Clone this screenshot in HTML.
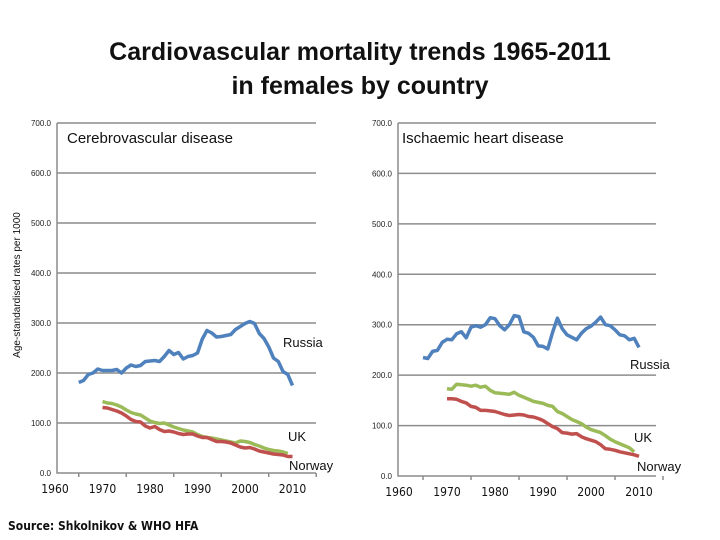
<!DOCTYPE html>
<html><head><meta charset="utf-8"><style>
body{margin:0;background:#fff;width:720px;height:540px;overflow:hidden;font-family:"Liberation Sans",sans-serif}
svg{position:absolute;left:0;top:0}
</style></head><body>
<svg id="s" width="720" height="540" xmlns="http://www.w3.org/2000/svg">
<text x="360" y="60" text-anchor="middle" font-size="25" font-weight="bold" fill="#111">Cardiovascular mortality trends 1965-2011</text>
<text x="360" y="94" text-anchor="middle" font-size="25" font-weight="bold" fill="#111">in females by country</text>
<text transform="translate(20,285) rotate(-90)" text-anchor="middle" font-size="10" fill="#111">Age-standardised rates per 1000</text>
<text x="8" y="530" font-size="12" font-weight="bold" font-family="DejaVu Sans Condensed, DejaVu Sans, sans-serif" fill="#111">Source: Shkolnikov &amp; WHO HFA</text>
<g id="left"></g><g id="right"></g>
</svg>
<script>
const yTicks=[0,100,200,300,400,500,600,700];
const xTickLabels=[1960,1970,1980,1990,2000,2010];
const cvRussiaStart=1965;
const cvRussia=[181,185,197,200,208,205,205,205,207,200,210,216,213,215,223,224,225,223,233,245,237,241,228,233,235,240,268,285,280,272,273,275,277,287,293,299,303,299,279,269,252,230,223,203,197,175];
const cvUKStart=1970;
const cvUK=[143,140,139,136,132,126,121,118,116,110,104,101,99,100,96,92,89,86,84,82,77,73,71,70,68,66,64,62,60,64,63,61,57,54,50,47,45,44,42,39];
const cvNorwayStart=1970;
const cvNorway=[131,130,127,124,120,114,107,103,102,94,90,93,87,83,84,82,79,77,78,78,74,71,71,67,63,63,62,60,56,52,50,51,48,44,42,40,38,37,36,33,33];
const ihdRussiaStart=1965;
const ihdRussia=[235,233,247,249,265,271,270,282,286,274,295,298,295,300,314,312,298,290,300,318,316,286,283,275,258,257,252,285,313,292,280,275,270,283,292,297,305,315,300,298,290,280,278,270,273,255];
const ihdUKStart=1970;
const ihdUK=[173,172,182,181,180,178,180,176,178,170,165,164,163,162,166,160,156,152,148,146,144,140,138,128,124,118,112,108,104,97,92,89,86,80,73,68,64,60,56,48];
const ihdNorwayStart=1970;
const ihdNorway=[153,153,152,148,145,138,136,130,130,129,128,125,122,120,121,122,121,118,117,114,110,104,98,94,86,85,83,84,78,74,71,68,62,54,53,51,48,46,44,42,39];
const NS="http://www.w3.org/2000/svg";
function mk(p,t,a){const e=document.createElementNS(NS,t);for(const k in a)e.setAttribute(k,a[k]);p.appendChild(e);return e;}
function panel(g,cfg){
  const y=v=>cfg.y0-v*(cfg.y0-cfg.y7)/700;
  const x=yr=>cfg.x60+(yr-1960)*cfg.px;
  yTicks.forEach(t=>{
    if(t>0){const l=mk(g,'line',{x1:cfg.ax,x2:cfg.gx,y1:y(t),y2:y(t),stroke:'#8c8c8c','stroke-width':1.5});
    
    }
    const tx=mk(g,'text',{x:cfg.ax-6,y:y(t)+3,'text-anchor':'end','font-size':8,fill:'#222'});
    tx.textContent=t.toFixed(1);
    
    
  });
  const ax=mk(g,'path',{d:`M${cfg.ax},${y(700)}V${y(0)}H${cfg.gx}`,fill:'none',stroke:'#8c8c8c','stroke-width':1.5});
  
  
  for(let k=0;k<6;k++){const tx0=x(1965+10*k);mk(g,'line',{x1:tx0,x2:tx0,y1:y(0),y2:y(0)+4,stroke:'#8c8c8c','stroke-width':1.5});}
  xTickLabels.forEach(v=>{const t=mk(g,'text',{x:x(v),y:y(0)+20,'text-anchor':'middle','font-size':12,'font-family':'DejaVu Sans Condensed, DejaVu Sans, sans-serif',fill:'#111'});
    t.textContent=v;
    
    });
  cfg.series.forEach(s=>{
    const pts=s.data.map((v,i)=>x(s.start+i).toFixed(1)+','+y(v).toFixed(1)).join(' ');
    const pl=mk(g,'polyline',{points:pts,fill:'none',stroke:s.color,'stroke-width':3.5,'stroke-linejoin':'round'});
    
    
  });
  cfg.labels.forEach(l=>{const t=mk(g,'text',{x:l[1],y:l[2],'font-size':13,fill:'#111'});t.textContent=l[0];
    
    });
  const pt=mk(g,'text',{x:cfg.tx,y:143,'font-size':15,fill:'#111'});pt.textContent=cfg.title;
  
  
}
const L=document.getElementById('left');


panel(L,{ax:57,gx:316,y0:473,y7:123,x60:55,px:4.75,tx:67,title:'Cerebrovascular disease',
 series:[{name:'russia',color:'#4f81bd',start:cvRussiaStart,data:cvRussia},{name:'uk',color:'#9bbb59',start:cvUKStart,data:cvUK},{name:'norway',color:'#c0504d',start:cvNorwayStart,data:cvNorway}],
 labels:[['Russia',283,347],['UK',288,441],['Norway',289,470]]});
const R=document.getElementById('right');


panel(R,{ax:398,gx:656,y0:476,y7:123,x60:399,px:4.8,tx:402,title:'Ischaemic heart disease',
 series:[{name:'russia',color:'#4f81bd',start:ihdRussiaStart,data:ihdRussia},{name:'uk',color:'#9bbb59',start:ihdUKStart,data:ihdUK},{name:'norway',color:'#c0504d',start:ihdNorwayStart,data:ihdNorway}],
 labels:[['Russia',630,369],['UK',634,442],['Norway',637,471]]});
</script>
</body></html>
